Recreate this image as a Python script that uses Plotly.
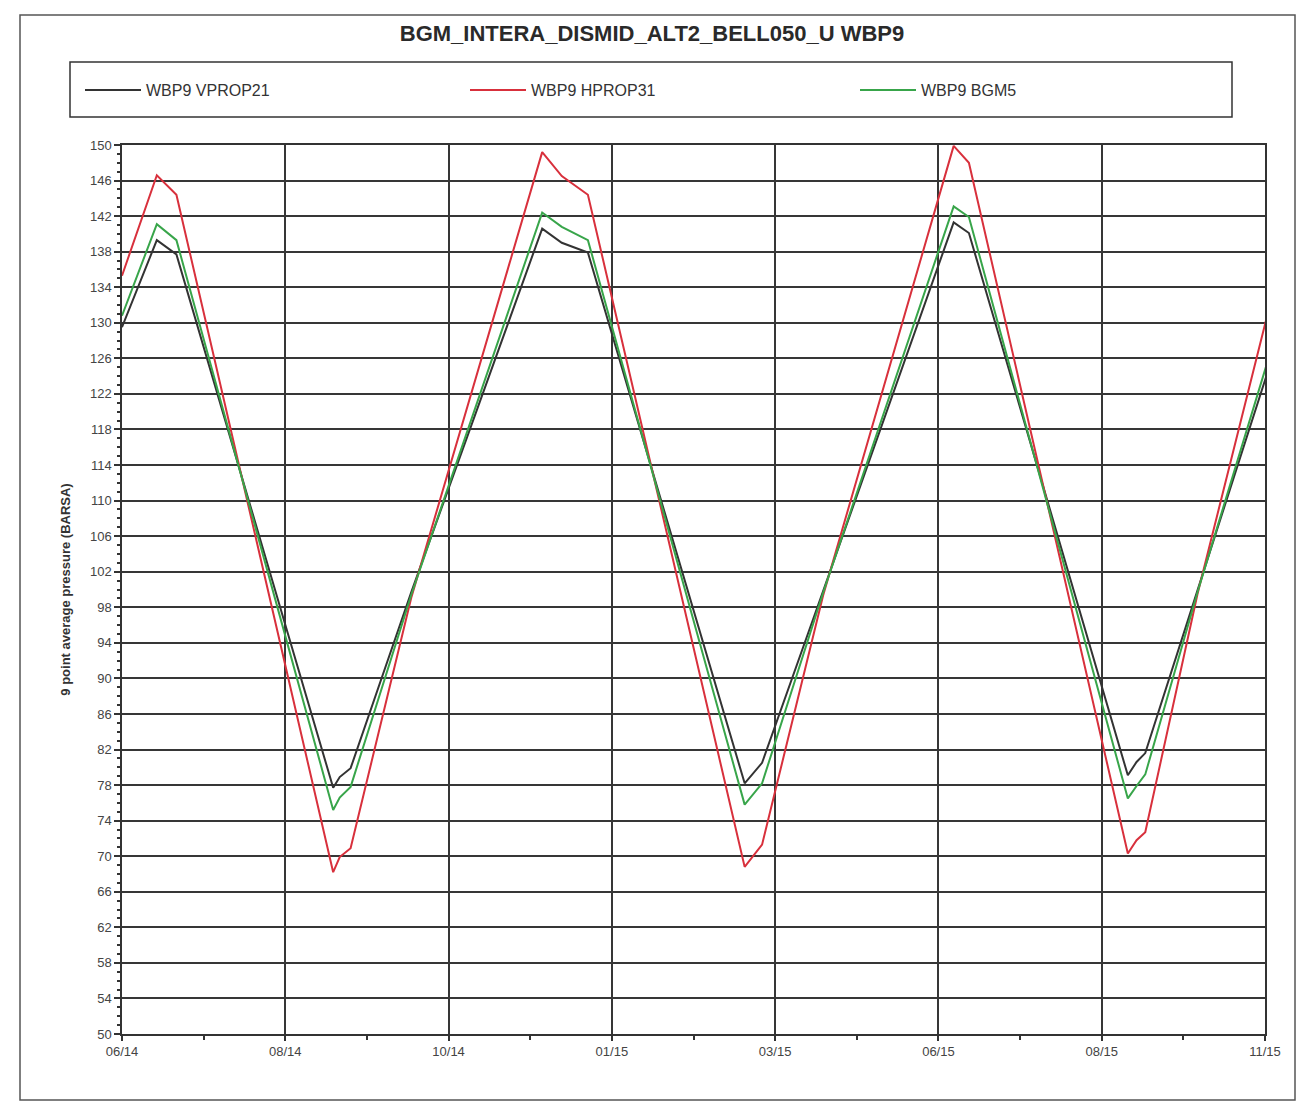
import plotly.graph_objects as go

# Time axis: days since the start of the record (06/14); a label every 75 days
days = [0, 16, 25, 97, 100, 105, 133, 193, 202, 214, 286, 290, 294, 322,
        382, 389, 462, 466, 470, 494, 526]
tick_days = [0, 75, 150, 225, 300, 375, 450, 525]
tick_labels = ["06/14", "08/14", "10/14", "01/15", "03/15", "06/15", "08/15", "11/15"]

# 9 point average pressure (BARSA) per well property set
vprop21 = [129.5, 139.3, 137.7, 77.7, 78.9, 79.9, 99.8, 140.6, 139.0, 137.9, 78.2, 79.4, 80.5, 99.8,
           141.3, 140.1, 79.1, 80.6, 81.6, 99.9, 124.3]
hprop31 = [135.3, 146.6, 144.4, 68.2, 69.9, 70.9, 99.2, 149.2, 146.5, 144.4, 68.8, 70.1, 71.3, 99.3,
           149.9, 148.0, 70.3, 71.8, 72.7, 99.5, 130.8]
bgm5 = [130.8, 141.1, 139.3, 75.2, 76.6, 77.8, 99.5, 142.4, 140.8, 139.3, 75.8, 77.0, 78.2, 99.6,
        143.1, 141.9, 76.5, 77.9, 79.2, 99.7, 125.5]

y_ticks = list(range(50, 151, 4))

W, H = 1304, 1116
L, R, T, B = 122, 39, 145, 82
pw, ph = W - L - R, H - T - B

# name, values, colour, legend id, legend left edge (px)
series = [
    ("WBP9 VPROP21", vprop21, "#333333", "legend", 80),
    ("WBP9 HPROP31", hprop31, "#d8303c", "legend2", 465),
    ("WBP9 BGM5", bgm5, "#38a54a", "legend3", 855),
]

fig = go.Figure()
for name, vals, color, leg, _ in series:
    fig.add_trace(go.Scatter(
        x=days, y=vals, mode="lines", name=name, legend=leg,
        line=dict(color=color, width=2),
    ))


def px_x(p):
    return (p - L) / pw


def px_y(p):
    return (H - B - p) / ph


def legend_box(left):
    return dict(
        orientation="h",
        xref="container", yref="container",
        x=left / W, xanchor="left",
        y=1 - 90 / H, yanchor="middle",
        bgcolor="rgba(0,0,0,0)",
        itemwidth=56,
        font=dict(size=16, color="#333333"),
    )


legends = {("legend" if i == 0 else f"legend{i + 1}"): legend_box(s[4])
           for i, s in enumerate(series)}

fig.update_layout(
    width=W, height=H,
    margin=dict(l=L, r=R, t=T, b=B),
    paper_bgcolor="white", plot_bgcolor="white",
    font=dict(family="Liberation Sans, Arial, sans-serif", color="#333333", size=13),
    title=dict(
        text="<b>BGM_INTERA_DISMID_ALT2_BELL050_U WBP9</b>",
        x=0.5, xref="container", xanchor="center",
        y=1 - 33 / H, yref="container", yanchor="middle",
        font=dict(size=22, color="#2a2a2a"),
    ),
    showlegend=True,
    xaxis=dict(
        range=[0, 525],
        tickvals=tick_days, ticktext=tick_labels,
        ticks="outside", ticklen=5, tickcolor="#333333", tickwidth=1.5,
        showline=True, linecolor="#333333", linewidth=1.5, mirror=True,
        showgrid=True, gridcolor="#363636", gridwidth=1.6,
        minor=dict(dtick=37.5, tick0=0, ticks="outside", ticklen=4,
                   tickcolor="#333333", showgrid=False),
        tickfont=dict(size=13, color="#444444"),
        zeroline=False,
    ),
    yaxis=dict(
        range=[50, 150],
        tickvals=y_ticks,
        ticks="outside", ticklen=6, tickcolor="#333333", tickwidth=1.5,
        showline=True, linecolor="#333333", linewidth=1.5, mirror=True,
        showgrid=True, gridcolor="#363636", gridwidth=1.6,
        minor=dict(dtick=1, ticks="outside", ticklen=3,
                   tickcolor="#333333", showgrid=False),
        tickfont=dict(size=13, color="#444444"),
        title=dict(text="<b>9 point average pressure (BARSA)</b>",
                   font=dict(size=13, color="#333333"), standoff=16),
        zeroline=False,
    ),
    shapes=[
        # legend frame
        dict(type="rect", xref="paper", yref="paper",
             x0=px_x(70), x1=px_x(1232), y0=px_y(117), y1=px_y(62),
             line=dict(color="#333333", width=1.5), fillcolor="rgba(0,0,0,0)"),
        # outer page frame
        dict(type="rect", xref="paper", yref="paper",
             x0=px_x(20), x1=px_x(1295), y0=px_y(1100), y1=px_y(15),
             line=dict(color="#555555", width=1.5), fillcolor="rgba(0,0,0,0)"),
    ],
    **legends,
)

fig.write_html("out.html")
